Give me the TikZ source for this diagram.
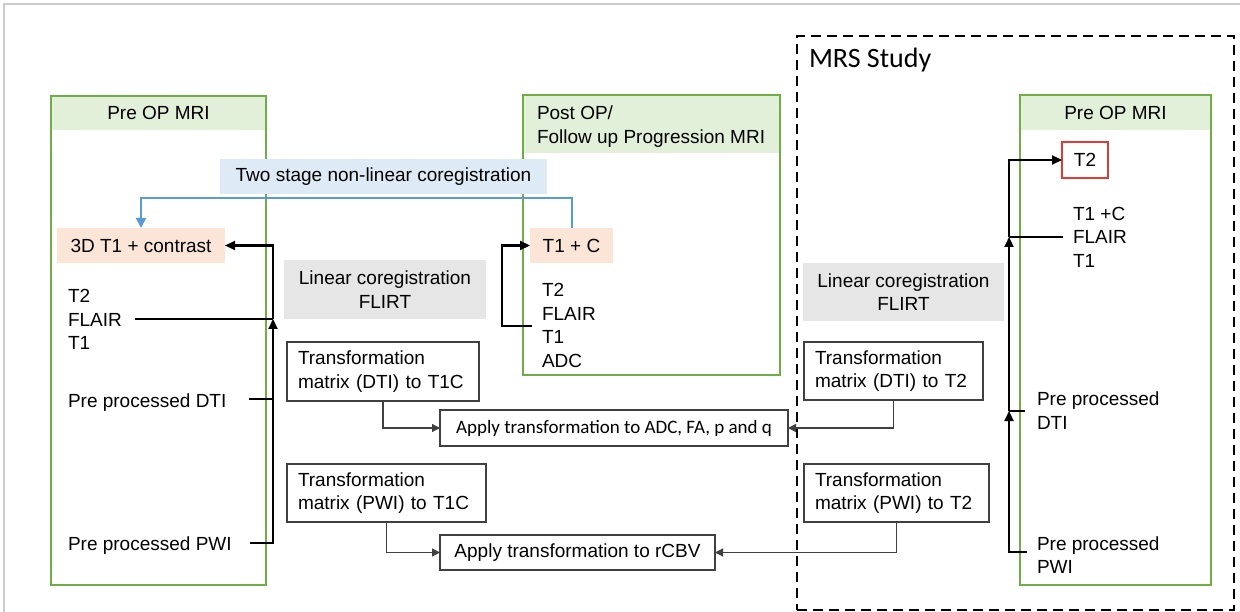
\documentclass[tikz,border=0pt]{standalone}
\usepackage{fontspec}
\setmainfont{Liberation Sans}
\newfontfamily\calfont{Carlito}
\usetikzlibrary{arrows.meta,calc}
\definecolor{grn}{HTML}{70AD47}
\definecolor{grnfill}{HTML}{E2F0D9}
\definecolor{peach}{HTML}{FBE5D6}
\definecolor{bluefill}{HTML}{DEEBF7}
\definecolor{blueline}{HTML}{5B9BD5}
\definecolor{grayfill}{HTML}{E7E6E6}
\definecolor{redbox}{HTML}{E53935}
\definecolor{framegray}{HTML}{CCCCCC}
\definecolor{conn}{HTML}{404040}
\newcommand\myfs{\fontsize{19}{23.5}\selectfont}
\begin{document}
\begin{tikzpicture}[x=1pt,y=-1pt,
 every node/.append style={font=\myfs, inner sep=0pt, outer sep=0pt},
 greenbox/.style={draw=grn, line width=1.3pt, rectangle},
 header/.style={fill=grnfill},
 txt/.style={anchor=base west},
 peachbox/.style={fill=peach},
 graybox/.style={fill=grayfill, align=center},
 tbox/.style={draw=conn, line width=1.2pt, align=left, inner xsep=11pt},
 abox/.style={draw=conn, line width=1.2pt},
 thickln/.style={line width=2.2pt, black},
 thinln/.style={line width=1.2pt, conn},
 bigarrow/.style={-{Triangle[length=10pt,width=9pt]}},
 smallarrow/.style={-{Triangle[length=8pt,width=8pt]}}
]
\useasboundingbox (0,0) rectangle (1240,612);
\draw[framegray, line width=2.5pt] (4,612) -- (4,4) -- (1240,4);

% MRS dashed region
\node[draw=black, line width=2.2pt, dash pattern=on 10pt off 6pt, minimum width=437pt, minimum height=574pt] (mrs) at (1015.5,323) {};
\node[txt, font=\calfont\fontsize{28}{34}\selectfont] (mrsT) at (809,68) {MRS Study};

% headers
\node[header, minimum width=213pt, minimum height=34pt] (lhead) at (158.5,113) {Pre OP MRI};
\node[header, minimum width=255pt, minimum height=58pt] (mhead) at (651.5,124) {};
\node[header, minimum width=189pt, minimum height=35pt] (rhead) at (1115.5,112.5) {Pre OP MRI};
\node[txt] (mheadA) at (537,120) {Post OP/};
\node[txt] (mheadB) at (537,144) {Follow up Progression MRI};

% green boxes
\node[greenbox, minimum width=215pt, minimum height=489pt] (lbox) at (158.5,340.5) {};
\node[greenbox, minimum width=257pt, minimum height=280pt] (mbox) at (651.5,235) {};
\node[greenbox, minimum width=191pt, minimum height=490pt] (rbox) at (1115.5,340) {};

% coloured boxes
\node[fill=bluefill, minimum width=327pt, minimum height=35pt] (two) at (383.5,176.5) {Two stage non-linear coregistration};
\node[peachbox, minimum width=168pt, minimum height=35pt] (t1c3d) at (141,245.5) {3D T1 + contrast};
\node[peachbox, minimum width=83pt, minimum height=35pt] (t1c) at (571.5,245.5) {T1 + C};
\node[draw=redbox, line width=1.2pt, minimum width=46pt, minimum height=36pt] (rt2) at (1085,160) {T2};
\node[graybox, minimum width=202pt, minimum height=59pt] (lin1) at (385,289.5) {Linear coregistration\\FLIRT};
\node[graybox, minimum width=201pt, minimum height=58pt] (lin2) at (903.5,292) {Linear coregistration\\FLIRT};

% transformation boxes
\node[tbox, text width=170pt, minimum height=59pt] (tdti1) at (383,371.5) {Transformation\\matrix (DTI) to T1C};
\node[tbox, text width=177pt, minimum height=58pt] (tpwi1) at (386.5,493) {Transformation\\matrix (PWI) to T1C};
\node[tbox, text width=157pt, minimum height=58pt] (tdti2) at (893.5,371) {Transformation\\matrix (DTI) to T2};
\node[tbox, text width=163pt, minimum height=58pt] (tpwi2) at (896.5,493) {Transformation\\matrix (PWI) to T2};
\node[abox, font=\calfont\myfs, minimum width=348pt, minimum height=36pt] (aadc) at (614,428) {Apply transformation to ADC, FA, p and q};
\node[abox, minimum width=275pt, minimum height=35pt] (arcbv) at (577.5,552.5) {Apply transformation to rCBV};

% left texts
\node[txt] (lT2) at (68,303) {T2};
\node[txt] (lFL) at (68,327) {FLAIR};
\node[txt] (lT1) at (68,350) {T1};
\node[txt] (lDTI) at (68,407) {Pre processed DTI};
\node[txt] (lPWI) at (68,550) {Pre processed PWI};
% middle texts
\node[txt] (mT2) at (542,297) {T2};
\node[txt] (mFL) at (542,321) {FLAIR};
\node[txt] (mT1) at (542,344) {T1};
\node[txt] (mADC) at (542,367) {ADC};
% right texts
\node[txt] (rT1C) at (1073,221) {T1 +C};
\node[txt] (rFL) at (1073,244) {FLAIR};
\node[txt] (rT1) at (1073,268) {T1};
\node[txt] (rDTIa) at (1037,406) {Pre processed};
\node[txt] (rDTIb) at (1037,429) {DTI};
\node[txt] (rPWIa) at (1037,550) {Pre processed};
\node[txt] (rPWIb) at (1037,573) {PWI};

% left connectors
\coordinate (jL) at (273,319);
\coordinate (flL) at (135,319);
\coordinate (dtiL) at (249,399);
\coordinate (pwiL) at (250,543);
\draw[thickln] (flL) -- (jL);
\draw[thickln] (dtiL) -- (dtiL -| jL);
\draw[thickln,bigarrow] (pwiL) -| (jL);
\draw[thickln,bigarrow] (jL) |- (t1c3d.east);

% middle bracket
\coordinate (mbL) at (532,326);
\draw[thickln,bigarrow] (mbL) -- ++(-30,0) |- (t1c.west);

% right connectors
\coordinate (jR) at (1009,237);
\coordinate (rflL) at (1063,237);
\coordinate (rdtiL) at (1025,411);
\coordinate (rpwiL) at (1027,552);
\draw[thickln] (rflL) -- (jR);
\draw[thickln,bigarrow] (rpwiL) -| (rdtiL -| jR);
\draw[thickln] (rdtiL) -- (rdtiL -| jR);
\draw[thickln,bigarrow] (rdtiL -| jR) -- (jR);
\draw[thickln,bigarrow] (jR) |- (rt2.west);

% blue non-linear connector
\draw[blueline, line width=2pt, -{Triangle[length=10pt,width=10pt]}] (t1c.north) -- ++(0,-30) -| (t1c3d.north);

% thin connectors
\draw[thinln,smallarrow] (tdti1.south) |- (aadc.west);
\draw[thinln,smallarrow] (tpwi1.south) |- (arcbv.west);
\draw[thinln,smallarrow] (tdti2.south) |- (aadc.east);
\draw[thinln,smallarrow] (tpwi2.south) |- (arcbv.east);
\end{tikzpicture}
\end{document}
